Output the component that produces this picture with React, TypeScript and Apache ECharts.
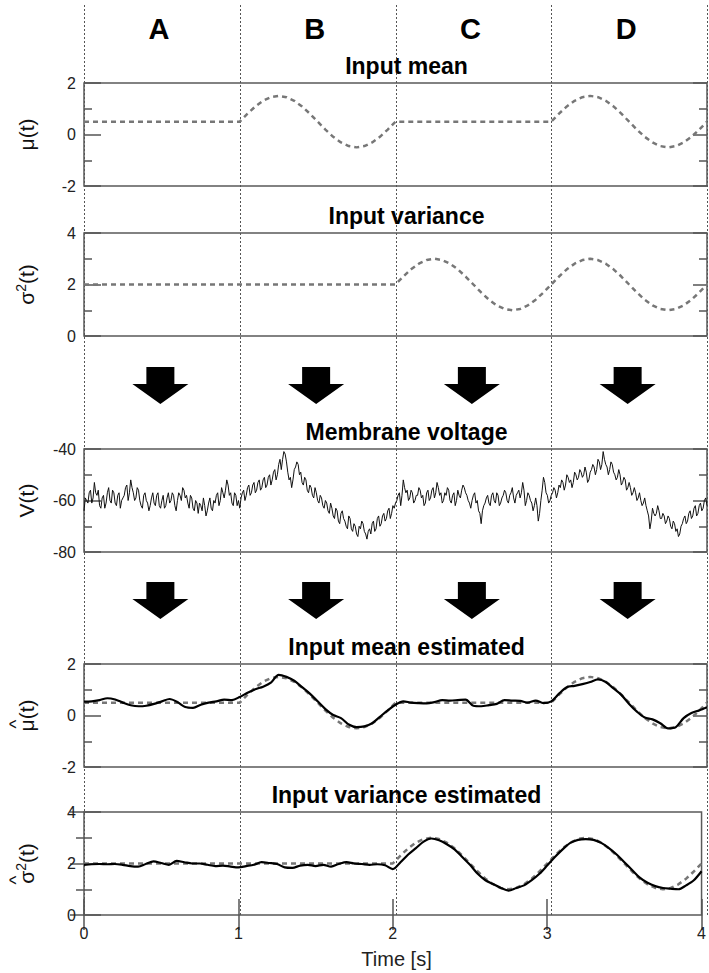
import React, { useEffect, useRef } from "react";
import * as echarts from "echarts";

// ---------- data ----------
const T_EST = Array.from({ length: 81 }, (_, i) => Math.round(i * 5) / 100); // 0, 0.05, ..., 4
const MU_TRUE = [
  0.5, 0.5, 0.5, 0.5, 0.5, 0.5, 0.5, 0.5, 0.5, 0.5, 0.5,
  0.5, 0.5, 0.5, 0.5, 0.5, 0.5, 0.5, 0.5, 0.5, 0.5,
  0.81, 1.09, 1.31, 1.45, 1.5, 1.45, 1.31, 1.09, 0.81, 0.5,
  0.19, -0.09, -0.31, -0.45, -0.5, -0.45, -0.31, -0.09, 0.19, 0.5,
  0.5, 0.5, 0.5, 0.5, 0.5, 0.5, 0.5, 0.5, 0.5, 0.5,
  0.5, 0.5, 0.5, 0.5, 0.5, 0.5, 0.5, 0.5, 0.5, 0.5,
  0.81, 1.09, 1.31, 1.45, 1.5, 1.45, 1.31, 1.09, 0.81, 0.5,
  0.19, -0.09, -0.31, -0.45, -0.5, -0.45, -0.31, -0.09, 0.19, 0.5,
];
const VAR_TRUE = [
  2, 2, 2, 2, 2, 2, 2, 2, 2, 2, 2,
  2, 2, 2, 2, 2, 2, 2, 2, 2, 2,
  2, 2, 2, 2, 2, 2, 2, 2, 2, 2,
  2, 2, 2, 2, 2, 2, 2, 2, 2, 2,
  2.31, 2.59, 2.81, 2.95, 3, 2.95, 2.81, 2.59, 2.31, 2,
  1.69, 1.41, 1.19, 1.05, 1, 1.05, 1.19, 1.41, 1.69, 2,
  2.31, 2.59, 2.81, 2.95, 3, 2.95, 2.81, 2.59, 2.31, 2,
  1.69, 1.41, 1.19, 1.05, 1, 1.05, 1.19, 1.41, 1.69, 2,
];
const MU_EST = [
  0.54, 0.55, 0.6, 0.67, 0.62, 0.5, 0.4, 0.36, 0.38, 0.45, 0.55,
  0.64, 0.52, 0.33, 0.3, 0.42, 0.5, 0.55, 0.62, 0.6, 0.72,
  0.88, 1.02, 1.12, 1.28, 1.58, 1.5, 1.35, 1.1, 0.85, 0.55,
  0.25, 0.02, -0.1, -0.35, -0.45, -0.42, -0.3, -0.05, 0.2, 0.42,
  0.55, 0.5, 0.48, 0.47, 0.52, 0.6, 0.58, 0.6, 0.62, 0.38,
  0.36, 0.4, 0.45, 0.6, 0.58, 0.57, 0.5, 0.58, 0.48, 0.55,
  0.85, 1.1, 1.15, 1.22, 1.3, 1.4, 1.3, 1.05, 0.8, 0.45,
  0.15, -0.08, -0.15, -0.3, -0.5, -0.45, -0.1, 0.1, 0.2, 0.32,
];
const VAR_EST = [
  1.95, 1.97, 1.98, 1.97, 1.98, 1.95, 1.9, 1.88, 1.98, 2.08, 2.02,
  1.95, 2.1, 2.05, 2.0, 2.0, 1.95, 1.9, 1.92, 1.88, 1.85,
  1.9, 1.95, 2.05, 2.02, 1.98, 1.85, 1.83, 1.92, 1.95, 1.9,
  1.95, 1.88, 1.98, 2.05, 2.0, 1.98, 1.95, 1.97, 1.93, 1.78,
  2.05, 2.35, 2.6, 2.85, 2.97, 2.9, 2.75, 2.55, 2.25, 1.95,
  1.6, 1.35, 1.2, 1.05, 0.95, 1.05, 1.15, 1.35, 1.6, 1.92,
  2.25, 2.55, 2.8, 2.92, 2.95, 2.92, 2.8, 2.6, 2.35, 2.05,
  1.75, 1.45, 1.25, 1.12, 1.05, 1.02, 1.0, 1.15, 1.35, 1.7,
];
// membrane voltage, samples on whole 1/60 s steps
const V_STEP = [
  -64, -60, -57, -61, -53, -58, -62, -59, -63, -57,
  -60, -56, -61, -58, -63, -59, -55, -60, -52, -57,
  -59, -56, -62, -58, -60, -64, -59, -61, -58, -62,
  -60, -63, -59, -61, -57, -62, -60, -58, -55, -59,
  -61, -58, -63, -60, -65, -62, -59, -66, -61, -63,
  -60, -58, -62, -55, -59, -52, -58, -61, -57, -62,
  -63,
  -57, -60, -55, -58, -54, -57, -53, -56, -52, -55,
  -51, -54, -49, -52, -46, -48, -41, -45, -52, -55,
  -48, -45, -50, -53, -51, -56, -54, -58, -55, -60,
  -58, -62, -60, -64, -61, -66, -63, -68, -65, -67,
  -70, -66, -71, -69, -73, -70, -68, -72, -75, -71,
  -69, -72, -67, -70, -66, -68, -64, -67, -62, -61,
  -58, -62, -52, -57, -60, -56, -61, -58, -55, -59,
  -62, -57, -60, -56, -59, -53, -58, -61, -57, -55,
  -60, -58, -62, -56, -59, -54, -57, -60, -63, -58,
  -61, -64, -69, -62, -59, -61, -58, -60, -57, -62,
  -59, -56, -60, -58, -55, -61, -57, -59, -53, -62,
  -57, -60, -64, -59, -68, -60, -51, -57, -61, -58,
  -55, -59, -54, -52, -56, -50, -53, -55, -49, -52,
  -48, -51, -47, -53, -49, -46, -50, -44, -48, -41,
  -46, -50, -45, -49, -52, -48, -54, -51, -56, -53,
  -58, -55, -60, -57, -62, -59, -64, -71, -63, -66,
  -62, -67, -65, -69, -66, -70, -68, -72, -74, -70,
  -67, -69, -65, -67, -63, -66, -62, -64, -60, -62,
];
// membrane voltage, samples half-way between the steps above
const V_HALF = [
  -59, -61, -56, -59, -57, -56, -63, -58, -61, -55,
  -61, -57, -62, -57, -60, -58, -54, -57, -55, -60,
  -55, -60, -63, -57, -61, -62, -57, -62, -57, -63,
  -58, -62, -57, -60, -58, -64, -57, -60, -56, -58,
  -63, -59, -64, -61, -61, -64, -62, -64, -59, -64,
  -61, -57, -60, -57, -56, -54, -57, -62, -58, -60,
  -59, -56, -58, -54, -57, -53, -56, -52, -55, -51,
  -54, -50, -52, -48, -50, -44, -44, -42, -49, -51,
  -52, -47, -46, -49, -54, -52, -57, -55, -59, -57,
  -61, -59, -63, -61, -65, -63, -67, -64, -69, -64,
  -68, -71, -67, -72, -70, -74, -71, -69, -73, -72,
  -73, -68, -71, -66, -69, -65, -67, -63, -65, -63,
  -60, -57, -58, -55, -56, -59, -57, -60, -58, -56,
  -58, -61, -56, -59, -55, -57, -55, -57, -60, -58,
  -56, -61, -57, -60, -58, -56, -55, -58, -61, -60,
  -57, -60, -65, -64, -61, -58, -62, -57, -61, -58,
  -61, -58, -57, -61, -57, -59, -58, -56, -57, -56,
  -60, -58, -61, -62, -62, -65, -56, -53, -58, -60,
  -57, -56, -57, -55, -53, -54, -51, -52, -53, -50,
  -51, -49, -50, -49, -52, -48, -47, -48, -45, -46,
  -44, -47, -48, -46, -50, -51, -50, -53, -52, -55,
  -55, -57, -57, -59, -60, -61, -62, -66, -68, -65,
  -65, -64, -67, -66, -68, -67, -71, -69, -71, -73,
  -69, -66, -68, -64, -66, -62, -65, -61, -63, -59,
];
const V_TRACE: number[] = [];
V_STEP.forEach((v, i) => {
  V_TRACE.push(v);
  if (i < V_HALF.length) V_TRACE.push(V_HALF[i]);
});
const T_TRACE = V_TRACE.map((_, i) => (i * 4) / (V_TRACE.length - 1));

const PANEL_TITLES = [
  "Input mean",
  "Input variance",
  "Membrane voltage",
  "Input mean estimated",
  "Input variance estimated",
];
const Y_RANGES: [number, number][] = [
  [-2, 2],
  [0, 4],
  [-80, -40],
  [-2, 2],
  [0, 4],
];
const SEGMENTS = ["A", "B", "C", "D"];
const X_TICKS = [0, 1, 2, 3, 4];
const X_NAME = "Time [s]";

// ---------- layout ----------
const GRID_TOPS = [83, 233, 449, 664, 812];
const GRID_H = 103;
const FONT = "'Liberation Sans', Arial, Helvetica, sans-serif";
const FRAME = "#5a5a5a";
const TICK_STYLE = { color: "#555", width: 1.5 };

const pairs = (xs: number[], ys: number[]) => xs.map((x, i) => [x, ys[i]]);

export default function App() {
  const ref = useRef<HTMLDivElement>(null);
  useEffect(() => {
    if (!ref.current) return;
    const chart = echarts.init(ref.current, null, { renderer: "svg" });

    const grid = GRID_TOPS.map((top) => ({
      left: 84,
      right: 2,
      top,
      height: GRID_H,
      show: true,
      borderColor: FRAME,
      borderWidth: 1.5,
      backgroundColor: "transparent",
    }));

    const xAxis: any[] = GRID_TOPS.map((_, g) => ({
      type: "value",
      gridIndex: g,
      min: 0,
      max: 4,
      interval: 1,
      show: g === 4,
      axisLine: { show: false },
      splitLine: { show: false },
      axisTick: { show: true, inside: true, length: 16, lineStyle: TICK_STYLE },
      axisLabel: { fontSize: 16, color: "#222", margin: 10, fontFamily: FONT },
    }));
    xAxis.push({
      type: "value",
      gridIndex: 4,
      position: "top",
      min: 0,
      max: 4,
      interval: 1,
      axisLine: { show: false },
      splitLine: { show: false },
      axisTick: { show: true, inside: true, length: 15, lineStyle: TICK_STYLE },
      axisLabel: { show: false },
    });

    const yAxis: any[] = [];
    Y_RANGES.forEach(([mn, mx], g) => {
      ["left", "right"].forEach((pos) => {
        yAxis.push({
          type: "value",
          gridIndex: g,
          position: pos,
          min: mn,
          max: mx,
          interval: (mx - mn) / 2,
          axisLine: { show: false },
          splitLine: { show: false },
          axisTick: { show: true, inside: true, length: pos === "left" ? 17 : 14, lineStyle: TICK_STYLE },
          minorTick: { show: true, splitNumber: 2, length: 8, lineStyle: TICK_STYLE },
          axisLabel: {
            show: pos === "left",
            fontSize: 16,
            color: "#222",
            margin: 8,
            fontFamily: FONT,
          },
        });
      });
    });

    const dashed = (g: number, ys: number[]) => ({
      type: "line",
      xAxisIndex: g,
      yAxisIndex: 2 * g,
      data: pairs(T_EST, ys),
      symbol: "none",
      lineStyle: { color: "#777", width: 2.5, type: [5, 4] },
      z: 3,
    });
    const solid = (g: number, ys: number[]) => ({
      type: "line",
      xAxisIndex: g,
      yAxisIndex: 2 * g,
      data: pairs(T_EST, ys),
      symbol: "none",
      smooth: 0.3,
      lineStyle: { color: "#000", width: 2.2 },
      z: 4,
    });

    const series: any[] = [
      dashed(0, MU_TRUE),
      dashed(1, VAR_TRUE),
      {
        type: "line",
        xAxisIndex: 2,
        yAxisIndex: 4,
        data: pairs(T_TRACE, V_TRACE),
        symbol: "none",
        lineStyle: { color: "#111", width: 1 },
        z: 3,
      },
      dashed(3, MU_TRUE),
      solid(3, MU_EST),
      dashed(4, VAR_TRUE),
      solid(4, VAR_EST),
    ];

    chart.setOption({
      animation: false,
      backgroundColor: "#fff",
      textStyle: { fontFamily: FONT },
      grid,
      xAxis,
      yAxis,
      series,
    });

    const px = (t: number) => chart.convertToPixel({ xAxisIndex: 0 }, t) as unknown as number;
    const py = (g: number, v: number) =>
      chart.convertToPixel({ yAxisIndex: 2 * g }, v) as unknown as number;
    const top = (g: number) => py(g, Y_RANGES[g][1]);
    const bottom = (g: number) => py(g, Y_RANGES[g][0]);

    const graphic: any[] = [];
    // dotted vertical separators
    X_TICKS.forEach((t) => {
      const x = Math.round(px(t)) + 0.5;
      graphic.push({
        type: "line",
        z: 1,
        shape: { x1: x, y1: 5, x2: x, y2: bottom(4) },
        style: { stroke: "#555", lineWidth: 1, lineDash: [2, 2] },
      });
    });
    // segment letters
    SEGMENTS.forEach((s, i) => {
      graphic.push({
        type: "text",
        z: 5,
        x: px(i + 0.5) - 3,
        y: 29,
        style: {
          text: s,
          fontSize: 29,
          fontWeight: "bold",
          fontFamily: FONT,
          fill: "#000",
          align: "center",
          verticalAlign: "middle",
        },
      });
    });
    // panel titles
    PANEL_TITLES.forEach((tt, g) => {
      graphic.push({
        type: "text",
        z: 5,
        x: px(2) + 11,
        y: top(g) - 17,
        style: {
          text: tt,
          fontSize: 23,
          fontWeight: "bold",
          fontFamily: FONT,
          fill: "#000",
          align: "center",
          verticalAlign: "middle",
        },
      });
    });
    // arrows
    const arrowRows = [bottom(1) + 31, bottom(2) + 30];
    arrowRows.forEach((y0) => {
      SEGMENTS.forEach((_, i) => {
        const cx = px(i + 0.5) - 1.5;
        graphic.push({
          type: "polygon",
          z: 5,
          shape: {
            points: [
              [cx - 14, y0],
              [cx + 14, y0],
              [cx + 14, y0 + 17],
              [cx + 28, y0 + 17],
              [cx, y0 + 37],
              [cx - 28, y0 + 17],
              [cx - 14, y0 + 17],
            ],
          },
          style: { fill: "#000" },
        });
      });
    });
    // y-axis names
    const yNames = [
      "{a|μ(t)}",
      "{a|σ}{s|2}{a|(t)}",
      "{a|V(t)}",
      "{a|μ(t)}",
      "{a|σ}{s|2}{a|(t)}",
    ];
    yNames.forEach((txt, g) => {
      graphic.push({
        type: "text",
        z: 5,
        x: 26,
        y: (top(g) + bottom(g)) / 2,
        rotation: Math.PI / 2,
        style: {
          text: txt,
          align: "center",
          verticalAlign: "middle",
          fill: "#111",
          rich: {
            a: { fontSize: 21, fontFamily: FONT, fill: "#111", lineHeight: 26 },
            s: { fontSize: 14, fontFamily: FONT, fill: "#111", padding: [0, 0, 10, 0], lineHeight: 26 },
          },
        },
      });
    });
    // hats on the estimated quantities
    const hatOffsets: [number, number][] = [
      [3, 8.5],
      [4, 16.5],
    ];
    hatOffsets.forEach(([g, dy]) => {
      graphic.push({
        type: "text",
        z: 5,
        x: 15,
        y: (top(g) + bottom(g)) / 2 + dy,
        rotation: Math.PI / 2,
        style: {
          text: "^",
          fontSize: 19,
          fontFamily: FONT,
          fill: "#111",
          align: "center",
          verticalAlign: "middle",
        },
      });
    });
    // x-axis name
    graphic.push({
      type: "text",
      z: 5,
      x: px(2) + 1,
      y: 959,
      style: {
        text: X_NAME,
        fontSize: 20,
        fontFamily: FONT,
        fill: "#222",
        align: "center",
        verticalAlign: "middle",
      },
    });

    chart.setOption({ graphic });
    return () => chart.dispose();
  }, []);

  return (
    <div
      ref={ref}
      style={{ position: "fixed", left: 0, top: 0, width: 709, height: 973, background: "#fff" }}
    />
  );
}
